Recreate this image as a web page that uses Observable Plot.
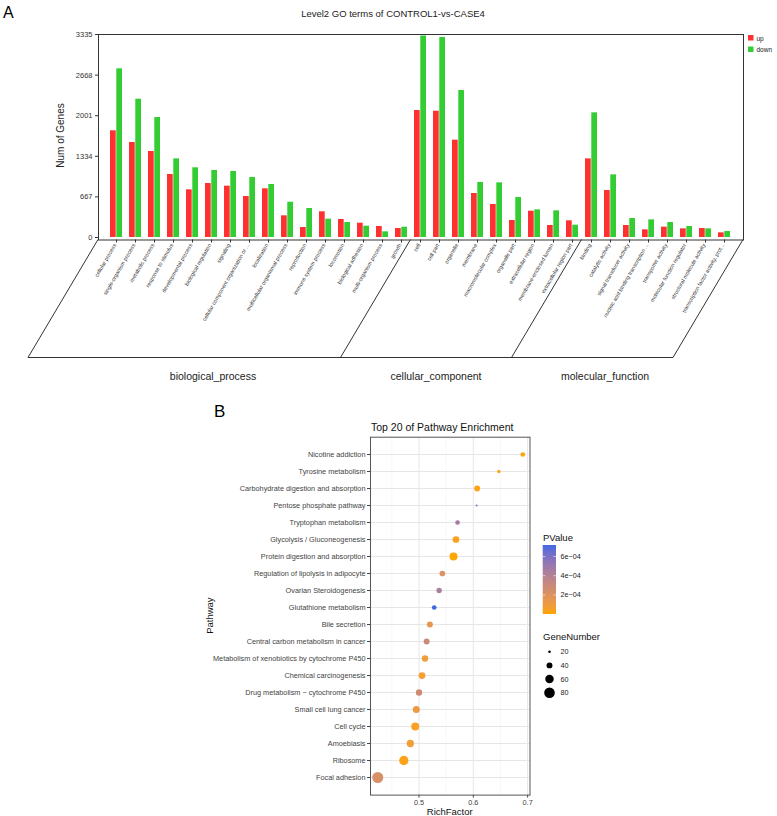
<!DOCTYPE html>
<html><head><meta charset="utf-8">
<script src="https://cdn.jsdelivr.net/npm/d3@7"></script>
<script src="https://cdn.jsdelivr.net/npm/@observablehq/plot@0.6"></script>
<style>
body{margin:0;background:#fff;}
#root{position:relative;width:777px;height:816px;overflow:hidden;font-family:"Liberation Sans",Arial,sans-serif;}
#root svg{position:absolute;left:0;}
</style></head><body><div id="root"></div>
<script>
// ---------- Panel A data ----------
const goCategories = ["cellular process","single-organism process","metabolic process","response to stimulus","developmental process","biological regulation","signaling","cellular component organization or ...","localization","multicellular organismal process","reproduction","immune system process","locomotion","biological adhesion","multi-organism process","growth","cell","cell part","organelle","membrane","macromolecular complex","organelle part","extracellular region","membrane-enclosed lumen","extracellular region part","binding","catalytic activity","signal transducer activity","nucleic acid binding transcription ...","transporter activity","molecular function regulator","structural molecule activity","transcription factor activity, prot..."];
const goGroups = ["biological_process","cellular_component","molecular_function"];
const goGroupSizes = [16, 9, 8];
const upCounts = [1753,1561,1413,1035,783,887,843,674,800,356,164,422,296,235,181,148,2086,2075,1599,723,542,279,432,197,274,1292,772,197,126,170,142,148,77];
const downCounts = [2771,2272,1971,1292,1145,1101,1084,986,871,580,476,301,246,186,93,169,3310,3286,2415,904,898,657,454,438,202,2048,1029,312,290,246,181,142,99];
const goYTicks = [0,667,1334,2001,2668,3335];
const goSeries = ["up","down"];

// ---------- Panel B data ----------
const pathways = ["Nicotine addiction","Tyrosine metabolism","Carbohydrate digestion and absorption","Pentose phosphate pathway","Tryptophan metabolism","Glycolysis / Gluconeogenesis","Protein digestion and absorption","Regulation of lipolysis in adipocyte","Ovarian Steroidogenesis","Glutathione metabolism","Bile secretion","Central carbon metabolism in cancer","Metabolism of xenobiotics by cytochrome P450","Chemical carcinogenesis","Drug metabolism \u2212 cytochrome P450","Small cell lung cancer","Cell cycle","Amoebiasis","Ribosome","Focal adhesion"];
const richFactor = [0.691,0.647,0.607,0.606,0.571,0.568,0.5635,0.543,0.537,0.528,0.520,0.514,0.511,0.5055,0.500,0.495,0.493,0.484,0.472,0.424];
const geneNumber = [32,24,40,18,32,46,56,38,36,32,40,40,43,46,43,48,56,50,67,84];
const pValue = [1.0e-5,2.0e-5,2.0e-5,5.0e-4,4.6e-4,3.0e-5,1.0e-6,2.0e-4,4.4e-4,7.2e-4,1.5e-4,3.0e-4,9.0e-5,6.0e-5,2.8e-4,1.1e-4,4.0e-5,8.0e-5,2.0e-5,2.3e-4];
const pvTicks = [2e-4,4e-4,6e-4];
const sizeTicks = [20,40,60,80];
const richTicks = [0.5,0.6,0.7];
const richMinor = [0.45,0.55,0.65];

const FONT = '"Liberation Sans", Arial, sans-serif';
const W = 777;
const root = document.getElementById("root");

function addText(sel, x, y, txt, o = {}) {
  const t = sel.append("text").attr("x", x).attr("y", y).text(txt)
    .attr("font-family", FONT).attr("font-size", o.size || 10)
    .attr("fill", o.fill || "#000")
    .attr("text-anchor", o.anchor || "start")
    .attr("dominant-baseline", "central");
  if (o.rotate) t.attr("transform", `rotate(${o.rotate},${x},${y})`);
  return t;
}

// ================= Panel A =================
const A = {left: 98, right: 743, top: 34, zero: 237, bottom: 239.5, height: 400};
const groupLabelX = [213, 436, 605];
const nCat = goCategories.length;
const padIn = 0.35, padOut = 0.33;
const stepA = (A.right - A.left) / (nCat - padIn + 2 * padOut);
const bwA = stepA * (1 - padIn);
const goData = goCategories.map((c, i) => ({category: c, up: upCounts[i], down: downCounts[i]}));

const chartA = Plot.plot({
  width: W, height: A.height,
  marginLeft: A.left, marginRight: W - A.right, marginTop: A.top, marginBottom: A.height - A.bottom,
  style: {fontFamily: FONT, fontSize: "7.5px", color: "#333", background: "transparent", overflow: "visible"},
  x: {domain: goCategories, paddingInner: padIn, paddingOuter: padOut, tickSize: 3, tickFormat: () => "", label: null},
  y: {domain: [0, 3335], range: [A.zero, A.top], ticks: goYTicks, tickSize: 3, tickPadding: 3, tickFormat: d => String(d), label: null},
  marks: [
    Plot.barY(goData, {x: "category", y: "up", fill: "#FF3030", insetRight: bwA / 2}),
    Plot.barY(goData, {x: "category", y: "down", fill: "#33CC33", insetLeft: bwA / 2}),
    Plot.frame({stroke: "#333"}),
    Plot.text(goCategories, {x: d => d, frameAnchor: "bottom", dy: 5, rotate: -60, textAnchor: "end", fontSize: 5.4, fill: "#333"})
  ]
});
chartA.style.top = "0px";
root.appendChild(chartA);

{
  const svg = d3.select(chartA);
  const xs = chartA.scale("x");
  const step = xs.apply(goCategories[1]) - xs.apply(goCategories[0]);
  const bw = xs.bandwidth ?? bwA;
  const boundaryAfter = i => xs.apply(goCategories[i]) + bw / 2 + step / 2;
  const slant = 70, yTop = A.bottom, yBot = 357.5;
  const edges = [A.left];
  let acc = 0;
  goGroupSizes.forEach((s, k) => { acc += s; edges.push(k === goGroupSizes.length - 1 ? A.right : boundaryAfter(acc - 1)); });
  const g = svg.append("g").attr("fill", "none").attr("stroke", "#333").attr("stroke-width", 1);
  g.append("path").attr("d", `M${A.left},${yTop}L${A.left - slant},${yBot}L${A.right - slant},${yBot}L${A.right},${yTop}`);
  edges.slice(1, -1).forEach(x => g.append("line").attr("x1", x).attr("y1", yTop).attr("x2", x - slant).attr("y2", yBot));
  goGroups.forEach((name, k) => {
    addText(svg, groupLabelX[k], 376, name, {size: 10.5, anchor: "middle", fill: "#222"});
  });
  addText(svg, 393, 13, "Level2 GO terms of CONTROL1-vs-CASE4", {size: 9.5, anchor: "middle", fill: "#222"});
  addText(svg, 3, 12, "A", {size: 16, fill: "#000"});
  addText(svg, 60, (A.top + A.zero) / 2, "Num of Genes", {size: 10, anchor: "middle", rotate: -90, fill: "#222"});
  const legColors = {up: "#FF3030", down: "#33CC33"};
  goSeries.forEach((s, i) => {
    svg.append("rect").attr("x", 748).attr("y", 35 + i * 11.5).attr("width", 5.5).attr("height", 5.5).attr("fill", legColors[s]);
    addText(svg, 756.5, 38 + i * 11.5, s, {size: 6.5, fill: "#222"});
  });
}

// ================= Panel B =================
const B = {top: 400, height: 416, left: 370, right: 529.5, pTop: 436.7, pBottom: 794.6};
const pathData = pathways.map((p, i) => ({pathway: p, rf: richFactor[i], genes: geneNumber[i], p: pValue[i]}));
const [rfMin, rfMax] = d3.extent(richFactor);
const rfPad = (rfMax - rfMin) * 0.05;
const pExt = d3.extent(pValue);

const chartB = Plot.plot({
  width: W, height: B.height,
  marginLeft: B.left, marginRight: W - B.right, marginTop: B.pTop - B.top, marginBottom: B.top + B.height - B.pBottom,
  style: {fontFamily: FONT, fontSize: "7.3px", color: "#444", background: "transparent", overflow: "visible"},
  x: {domain: [rfMin - rfPad, rfMax + rfPad], ticks: richTicks, tickSize: 3, tickPadding: 2, tickFormat: d3.format(".1f"), label: null},
  y: {domain: pathways, type: "point", padding: 0.6, tickSize: 3, tickPadding: 2, label: null},
  r: {type: "sqrt", domain: [17, 86], range: [1, 5.6]},
  color: {type: "linear", domain: pExt, range: ["#FFA500", "#4169E1"], interpolate: d3.interpolateLab},
  marks: [
    Plot.ruleX(richMinor, {stroke: "#F2F2F2", strokeWidth: 0.6}),
    Plot.ruleX(richTicks, {stroke: "#E6E6E6", strokeWidth: 1}),
    Plot.ruleY(pathways, {y: d => d, stroke: "#E6E6E6", strokeWidth: 1}),
    Plot.dot(pathData, {x: "rf", y: "pathway", r: "genes", fill: "p"}),
    Plot.frame({stroke: "#555"})
  ]
});
chartB.style.top = B.top + "px";
root.appendChild(chartB);

{
  const svg = d3.select(chartB);
  const off = B.top;
  addText(svg, 214, 411.5 - off, "B", {size: 17, fill: "#000"});
  addText(svg, 371, 427 - off, "Top 20 of Pathway Enrichment", {size: 10.5, fill: "#111"});
  addText(svg, 210, (B.pTop + B.pBottom) / 2 - off, "Pathway", {size: 9.5, anchor: "middle", rotate: -90, fill: "#111"});
  addText(svg, (B.left + B.right) / 2, 811 - off, "RichFactor", {size: 9.5, anchor: "middle", fill: "#111"});

  // colour bar
  const cs = chartB.scale("color");
  const bar = {x: 542.7, w: 13.3, top: 545 - off, bottom: 614 - off};
  const gradId = "pvgrad";
  const grad = svg.append("defs").append("linearGradient").attr("id", gradId)
    .attr("x1", 0).attr("y1", 1).attr("x2", 0).attr("y2", 0);
  d3.range(0, 1.0001, 0.1).forEach(t => {
    const v = pExt[0] + t * (pExt[1] - pExt[0]);
    grad.append("stop").attr("offset", t).attr("stop-color", cs.apply(v));
  });
  addText(svg, 543, 537 - off, "PValue", {size: 9.5, fill: "#111"});
  svg.append("rect").attr("x", bar.x).attr("y", bar.top).attr("width", bar.w).attr("height", bar.bottom - bar.top).attr("fill", `url(#${gradId})`);
  const fmt = v => { const e = Math.floor(Math.log10(v) + 1e-9); const m = Math.round(v / Math.pow(10, e)); return `${m}e\u2212${String(-e).padStart(2, "0")}`; };
  pvTicks.forEach(v => {
    const y = bar.bottom - (v - pExt[0]) / (pExt[1] - pExt[0]) * (bar.bottom - bar.top);
    svg.append("line").attr("x1", bar.x).attr("x2", bar.x + 2.6).attr("y1", y).attr("y2", y).attr("stroke", "#fff").attr("stroke-width", 0.6);
    svg.append("line").attr("x1", bar.x + bar.w - 2.6).attr("x2", bar.x + bar.w).attr("y1", y).attr("y2", y).attr("stroke", "#fff").attr("stroke-width", 0.6);
    addText(svg, 560.5, y, fmt(v), {size: 7.2, fill: "#222"});
  });

  // size legend
  const rs = chartB.scale("r");
  addText(svg, 543, 636.3 - off, "GeneNumber", {size: 9.5, fill: "#111"});
  sizeTicks.forEach((v, i) => {
    const y = 651.7 + i * 13.7 - off;
    svg.append("circle").attr("cx", 549.5).attr("cy", y).attr("r", rs.apply(v)).attr("fill", "#000");
    addText(svg, 560.5, y, String(v), {size: 7.2, fill: "#222"});
  });
}
</script></body></html>
